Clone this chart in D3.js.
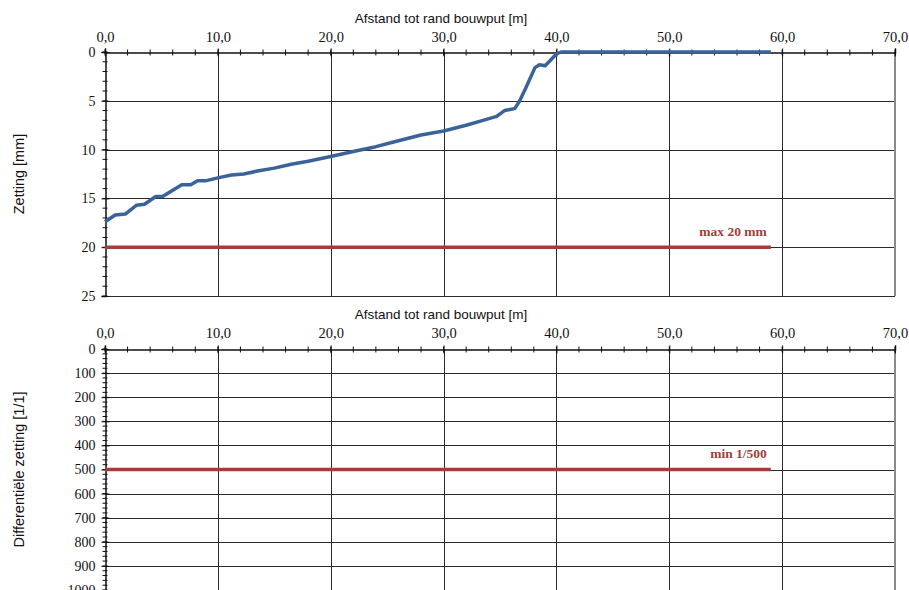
<!DOCTYPE html>
<html>
<head>
<meta charset="utf-8">
<script src="https://cdn.jsdelivr.net/npm/d3@7"></script>
<style>
  html, body { margin: 0; padding: 0; background: #fff; }
  svg { display: block; }
  .serif { font-family: "Liberation Serif", "Times New Roman", serif; }
  .sans { font-family: "Liberation Sans", Arial, sans-serif; }
</style>
</head>
<body>
<svg id="chart" width="909" height="590"></svg>
<script>
// Distance from excavation edge [m] and settlement [mm]
const afstand = [0, 0.9, 1.8, 2.8, 3.5, 4.5, 5.1, 6.8, 7.6, 8.2, 8.9, 10, 11.2, 12.3, 13.5, 15, 16.5, 18, 20, 22, 24, 26, 28, 30, 32, 33.5, 34.7, 35.4, 36.3, 36.7, 37.2, 38.1, 38.5, 39, 40, 40.4, 59];
const zetting = [17.4, 16.7, 16.6, 15.7, 15.6, 14.8, 14.8, 13.6, 13.6, 13.2, 13.2, 12.9, 12.6, 12.5, 12.2, 11.9, 11.5, 11.2, 10.7, 10.2, 9.7, 9.1, 8.5, 8.1, 7.5, 7.0, 6.6, 6.0, 5.8, 5.1, 3.9, 1.6, 1.3, 1.4, 0.2, 0, 0];

// Limit lines
const maxZetting = { label: "max 20 mm", value: 20, from: 0, to: 59 };
const minDiff = { label: "min 1/500", value: 500, from: 0, to: 59 };

// Axis ticks
const xTicks = [0, 10, 20, 30, 40, 50, 60, 70];
const xMinor = d3.range(0, 70.01, 2);
const yTopTicks = [0, 5, 10, 15, 20, 25];
const yTopMinor = d3.range(0, 25.01, 1);
const yBotTicks = [0, 100, 200, 300, 400, 500, 600, 700, 800, 900, 1000];
const yBotMinor = d3.range(0, 1000.01, 20);

const xTitle = "Afstand tot rand bouwput [m]";
const yTopTitle = "Zetting [mm]";
const yBotTitle = "Differentiële zetting [1/1]";

const svg = d3.select("#chart");
const fmt = d => d.toFixed(1).replace(".", ",");

const left = 105, right = 895;
const x = d3.scaleLinear().domain([0, 70]).range([left, right]);

const blue = "#3a6399";
const red = "#a23e3a";

function panel(y, yTicks, yMinor, yTitle, titleY, tickLabelY, limit, limitLabelDy) {
  const top = y.range()[0], bottom = y.range()[1];
  const g = svg.append("g");

  // grid
  g.selectAll(".hg").data(yTicks.slice(1)).join("line")
    .attr("x1", left).attr("x2", right)
    .attr("y1", d => Math.round(y(d)) + 0.5).attr("y2", d => Math.round(y(d)) + 0.5)
    .attr("stroke", "#2a2a2a").attr("stroke-width", 1);
  g.selectAll(".vg").data(xTicks.slice(1, -1)).join("line")
    .attr("x1", d => Math.round(x(d)) + 0.5).attr("x2", d => Math.round(x(d)) + 0.5)
    .attr("y1", top).attr("y2", bottom)
    .attr("stroke", "#2a2a2a").attr("stroke-width", 1);

  // right border
  g.append("line").attr("x1", right).attr("x2", right)
    .attr("y1", top).attr("y2", bottom)
    .attr("stroke", "#8a8a8a").attr("stroke-width", 2);

  // top axis
  const ax = g.append("g").attr("transform", `translate(0,${top + 0.5})`)
    .call(d3.axisTop(x).tickValues(xTicks).tickFormat(fmt).tickSize(4).tickPadding(8));
  ax.attr("font-family", null).attr("font-size", null);
  ax.select(".domain").attr("stroke", "#111").attr("stroke-width", 1.5);
  ax.selectAll(".tick line").attr("y2", -4).attr("y1", 4).attr("stroke", "#111");
  ax.selectAll("text").attr("class", "serif").style("font-size", "14.5px")
    .attr("fill", "#111").attr("y", tickLabelY - top).attr("dy", 0);
  ax.selectAll(".minor").data(xMinor).join("line").attr("class", "minor")
    .attr("x1", d => x(d)).attr("x2", d => x(d)).attr("y1", -3).attr("y2", 3)
    .attr("stroke", "#111");

  // left axis
  const ay = g.append("g").attr("transform", `translate(${left + 0.5},0)`)
    .call(d3.axisLeft(y).tickValues(yTicks).tickFormat(d3.format("d")).tickSize(4).tickPadding(6));
  ay.attr("font-family", null).attr("font-size", null);
  ay.select(".domain").attr("stroke", "#111").attr("stroke-width", 1.5);
  ay.selectAll(".tick line").attr("x1", 4).attr("x2", -4).attr("stroke", "#111");
  ay.selectAll("text").attr("class", "serif").style("font-size", "14px")
    .attr("fill", "#111");
  ay.selectAll(".minor").data(yMinor).join("line").attr("class", "minor")
    .attr("y1", d => y(d)).attr("y2", d => y(d)).attr("x1", -3).attr("x2", 2)
    .attr("stroke", "#111");

  // titles
  g.append("text").attr("class", "sans").attr("x", 441).attr("y", titleY)
    .attr("text-anchor", "middle").style("font-size", "13.5px")
    .attr("fill", "#111").text(xTitle);
  g.append("text").attr("class", "sans")
    .attr("transform", `translate(24,${(top + Math.min(bottom, 590)) / 2}) rotate(-90)`)
    .attr("text-anchor", "middle").style("font-size", "14.5px")
    .attr("fill", "#111").text(yTitle);

  // limit line
  g.append("line")
    .attr("x1", x(limit.from)).attr("x2", x(limit.to))
    .attr("y1", y(limit.value)).attr("y2", y(limit.value))
    .attr("stroke", red).attr("stroke-width", 3.5);
  g.append("text").attr("class", "serif")
    .attr("x", x(limit.to) - 4).attr("y", y(limit.value) + limitLabelDy)
    .attr("text-anchor", "end")
    .style("font-size", "13.5px").attr("font-weight", "bold")
    .attr("fill", red).text(limit.label);
  return g;
}

// upper panel: settlement
const yTop = d3.scaleLinear().domain([0, 25]).range([52, 296]);
const g1 = panel(yTop, yTopTicks, yTopMinor, yTopTitle, 23, 41, maxZetting, -11);

g1.append("path")
  .datum(afstand.map((d, i) => [d, zetting[i]]))
  .attr("fill", "none").attr("stroke", blue).attr("stroke-width", 3.5)
  .attr("stroke-linejoin", "round")
  .attr("d", d3.line().x(d => x(d[0])).y(d => yTop(d[1])));

// lower panel: differential settlement
const yBot = d3.scaleLinear().domain([0, 1000]).range([349, 590]);
panel(yBot, yBotTicks, yBotMinor, yBotTitle, 319, 337, minDiff, -12);
</script>
</body>
</html>
